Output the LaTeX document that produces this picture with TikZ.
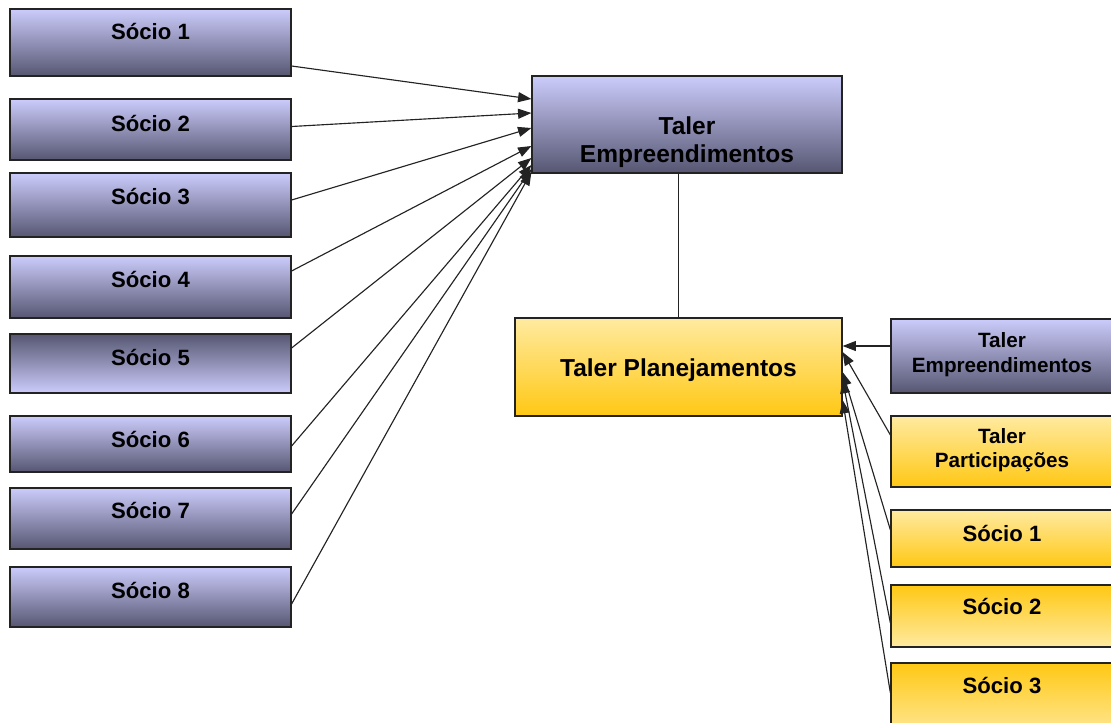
\documentclass[tikz,border=0pt]{standalone}
\usepackage{fontspec}
\setmainfont{Liberation Sans}
\usetikzlibrary{calc,arrows.meta}
\definecolor{bluL}{RGB}{204,204,252}
\definecolor{bluM}{RGB}{158,158,204}
\definecolor{bluD}{RGB}{86,86,114}
\definecolor{yelL}{RGB}{255,234,160}
\definecolor{yelM}{RGB}{255,220,95}
\definecolor{yelD}{RGB}{255,200,20}
\definecolor{edge}{RGB}{35,35,35}
\begin{document}
\begin{tikzpicture}[x=0.75pt,y=-0.75pt,
  bx/.style 2 args={draw=edge, line width=0.9pt, inner sep=0pt,
    minimum width=#1*0.75pt, minimum height=#2*0.75pt},
  blu/.style={top color=bluL, middle color=bluM, bottom color=bluD},
  bluR/.style={top color=bluD, middle color=bluM, bottom color=bluL},
  yel/.style={top color=yelL, middle color=yelM, bottom color=yelD},
  yelR/.style={top color=yelD, middle color=yelM, bottom color=yelL},
  txt/.style={anchor=base, inner sep=0pt, text=black,
    font=\bfseries\fontsize{16.6}{20}\selectfont},
  big/.style={anchor=base, inner sep=0pt, text=black,
    font=\bfseries\fontsize{18.4}{22}\selectfont},
  sml/.style={anchor=base, inner sep=0pt, text=black,
    font=\bfseries\fontsize{15.5}{19}\selectfont},
  arr/.style={draw=edge, line width=0.85pt, -{Triangle[length=10pt,width=7.5pt]}},
  ln/.style={draw=edge, line width=1pt}]
\fill[white] (0,0) rectangle (1111,722);
\useasboundingbox (0,0) rectangle (1111,722);

% left partner boxes
\node[bx={281}{67}, blu]  (s1) at (150.5,42.5) {};
\node[bx={281}{61}, blu]  (s2) at (150.5,129.5) {};
\node[bx={281}{64}, blu]  (s3) at (150.5,205) {};
\node[bx={281}{62}, blu]  (s4) at (150.5,287) {};
\node[bx={281}{59}, bluR] (s5) at (150.5,363.5) {};
\node[bx={281}{56}, blu]  (s6) at (150.5,444) {};
\node[bx={281}{61}, blu]  (s7) at (150.5,518.5) {};
\node[bx={281}{60}, blu]  (s8) at (150.5,597) {};
\node[txt] (t1) at (150.5,39)  {Sócio 1};
\node[txt] (t2) at (150.5,131) {Sócio 2};
\node[txt] (t3) at (150.5,204) {Sócio 3};
\node[txt] (t4) at (150.5,287) {Sócio 4};
\node[txt] (t5) at (150.5,365) {Sócio 5};
\node[txt] (t6) at (150.5,447) {Sócio 6};
\node[txt] (t7) at (150.5,518) {Sócio 7};
\node[txt] (t8) at (150.5,598) {Sócio 8};

% central boxes
\node[bx={310}{97}, blu] (te) at (687,124.5) {};
\node[big] (tea) at (687,134) {Taler};
\node[big] (teb) at (687,162) {Empreendimentos};
\node[bx={327}{98}, yel] (tp) at (678.5,367) {};
\node[big] (tpt) at (678.5,376) {Taler Planejamentos};

% right boxes
\node[bx={222}{74}, blu]  (r1) at (1002,356) {};
\node[bx={222}{71}, yel]  (r2) at (1002,451.5) {};
\node[bx={222}{57}, yel]  (r3) at (1002,538.5) {};
\node[bx={222}{62}, yelR] (r4) at (1002,616) {};
\node[bx={222}{77}, yelR] (r5) at (1002,701.5) {};
\node[sml] (r1a) at (1002,347) {Taler};
\node[sml] (r1b) at (1002,372) {Empreendimentos};
\node[sml] (r2a) at (1002,443) {Taler};
\node[sml] (r2b) at (1002,467) {Participações};
\node[txt] (r3t) at (1002,541) {Sócio 1};
\node[txt] (r4t) at (1002,614) {Sócio 2};
\node[txt] (r5t) at (1002,693) {Sócio 3};

% connectors
\draw[ln] (tp.north) -- (tp.north |- te.south);
\draw[arr] ($(s1.east)+(0,23.5)$) -- ($(te.west)+(0,-25.5)$);
\draw[arr] ($(s2.east)+(0,-3)$)   -- ($(te.west)+(0,-11.5)$);
\draw[arr] ($(s3.east)+(0,-5)$)   -- ($(te.west)+(0,3.5)$);
\draw[arr] ($(s4.east)+(0,-16)$)  -- ($(te.west)+(0,21.5)$);
\draw[arr] ($(s5.east)+(0,-15.5)$) -- ($(te.west)+(0,33.5)$);
\draw[arr] ($(s6.east)+(0,2)$)    -- ($(te.west)+(0,40.5)$);
\draw[arr] ($(s7.east)+(0,-4.5)$) -- ($(te.west)+(0,44.5)$);
\draw[arr] ($(s8.east)+(0,7)$)    -- ($(te.west)+(0,47.5)$);

\draw[arr] ($(r1.west)+(0,-10)$)  -- ($(tp.east)+(0,-21)$);
\draw[arr] ($(r2.west)+(0,-16.5)$) -- ($(tp.east)+(0,-15)$);
\draw[arr] ($(r3.west)+(0,-8.5)$) -- ($(tp.east)+(0,5)$);
\draw[arr] ($(r4.west)+(0,7)$)    -- ($(tp.east)+(0,13)$);
\draw[arr] ($(r5.west)+(0,-8.5)$) -- ($(tp.east)+(0,33)$);
\end{tikzpicture}
\end{document}
